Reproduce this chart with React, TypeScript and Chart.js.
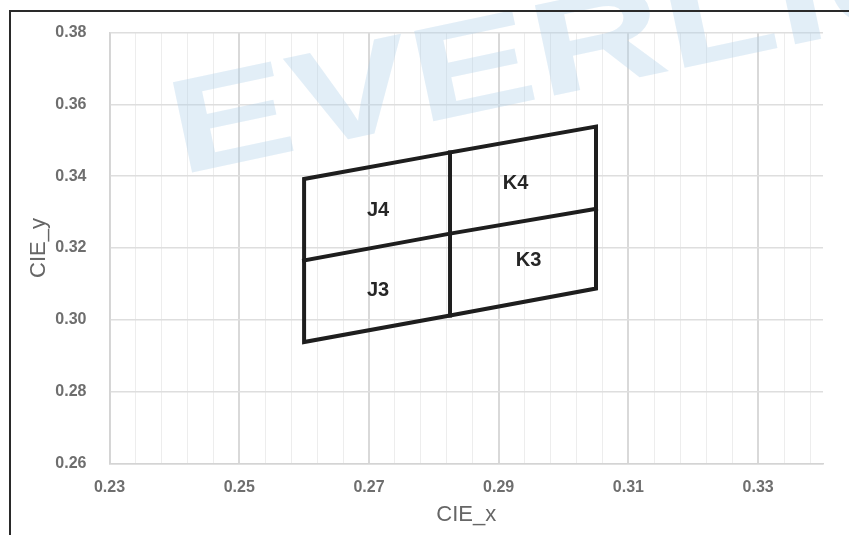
import React, { useEffect, useRef } from 'react';
import { Chart, registerables } from 'chart.js';

Chart.register(...registerables);

// ---- data ----
const binXs = [0.26, 0.2825, 0.305];
const binYTop = [0.3392, 0.3466, 0.3538];
const binYMid = [0.3165, 0.324, 0.3309];
const binYBottom = [0.2938, 0.3012, 0.3087];

const binNames = ['J4', 'K4', 'J3', 'K3'];
const binLabelX = [0.2714, 0.2926, 0.2714, 0.2946];
const binLabelY = [0.3304, 0.3379, 0.3082, 0.3165];

const xTickLabels = ['0.23', '0.25', '0.27', '0.29', '0.31', '0.33'];
const yTickLabels = ['0.26', '0.28', '0.30', '0.32', '0.34', '0.36', '0.38'];
const X_MIN = 0.23;
const X_MAX = 0.34;
const Y_MIN = 0.26;
const Y_MAX = 0.38;
const X_MINOR_STEP = 0.004;
const X_MAJOR_STEP = 0.02;
const xTitle = 'CIE_x';
const yTitle = 'CIE_y';
const watermarkText = 'EVERLIGHT';

const LINE_COLOR = '#1e1e1e';
const FONT = "'Liberation Sans', Arial, sans-serif";

const isMajorX = (v: number) => {
  const r = (v - X_MIN) / X_MAJOR_STEP;
  return Math.abs(r - Math.round(r)) < 1e-6;
};

export default function App() {
  const ref = useRef<HTMLCanvasElement | null>(null);

  useEffect(() => {
    if (!ref.current) return;
    const [x0, x1, x2] = binXs;
    const outline = [
      { x: x1, y: binYTop[1] },
      { x: x2, y: binYTop[2] },
      { x: x2, y: binYMid[2] },
      { x: x2, y: binYBottom[2] },
      { x: x1, y: binYBottom[1] },
      { x: x0, y: binYBottom[0] },
      { x: x0, y: binYMid[0] },
      { x: x0, y: binYTop[0] },
      { x: x1, y: binYTop[1] },
    ];
    const midH = binXs.map((x, i) => ({ x, y: binYMid[i] }));
    const midV = [
      { x: x1, y: binYTop[1] },
      { x: x1, y: binYMid[1] },
      { x: x1, y: binYBottom[1] },
    ];

    const lineDs = (data: { x: number; y: number }[]) => ({
      data,
      showLine: true,
      borderColor: LINE_COLOR,
      backgroundColor: LINE_COLOR,
      borderWidth: 4,
      pointRadius: 0,
      pointHoverRadius: 0,
      tension: 0,
      fill: false,
      borderJoinStyle: 'miter' as const,
      borderCapStyle: 'square' as const,
    });

    const watermarkPlugin = {
      id: 'watermark',
      beforeDatasetsDraw(chart: any) {
        const ctx = chart.ctx;
        ctx.save();
        ctx.translate(180, 175);
        ctx.rotate((-12 * Math.PI) / 180);
        ctx.scale(1.38, 1);
        ctx.font = `bold 134px ${FONT}`;
        ctx.fillStyle = 'rgba(175, 207, 232, 0.36)';
        ctx.textBaseline = 'alphabetic';
        ctx.textAlign = 'left';
        ctx.fillText(watermarkText, 0, 0);
        ctx.restore();
      },
    };

    const labelPlugin = {
      id: 'binLabels',
      afterDatasetsDraw(chart: any) {
        const ctx = chart.ctx;
        const xs = chart.scales.x;
        const ys = chart.scales.y;
        ctx.save();
        ctx.font = `bold 20px ${FONT}`;
        ctx.fillStyle = '#262626';
        ctx.textAlign = 'center';
        ctx.textBaseline = 'middle';
        binNames.forEach((n, i) => {
          ctx.fillText(n, xs.getPixelForValue(binLabelX[i]), ys.getPixelForValue(binLabelY[i]));
        });
        ctx.restore();
      },
    };

    const chart = new Chart(ref.current, {
      type: 'scatter',
      data: {
        datasets: [lineDs(outline), lineDs(midH), lineDs(midV)],
      },
      options: {
        animation: false,
        responsive: false,
        layout: { padding: { left: 0, right: 26, top: 31.7, bottom: 0 } },
        plugins: {
          legend: { display: false },
          tooltip: { enabled: false },
        },
        scales: {
          x: {
            type: 'linear',
            min: X_MIN,
            max: X_MAX,
            afterBuildTicks: (scale: any) => {
              const ticks = [];
              for (let i = 0; X_MIN + i * X_MINOR_STEP < X_MAX - 1e-9; i++) {
                ticks.push({ value: Math.round((X_MIN + i * X_MINOR_STEP) * 1e6) / 1e6 });
              }
              scale.ticks = ticks;
            },
            afterFit: (scale: any) => {
              scale.height = 71.7;
            },
            ticks: {
              autoSkip: false,
              maxRotation: 0,
              padding: 15,
              color: '#6e6e6e',
              font: { family: FONT, size: 16, weight: 'bold' },
              callback: (v: any) => {
                if (!isMajorX(v)) return '';
                const idx = Math.round((v - X_MIN) / X_MAJOR_STEP);
                return xTickLabels[idx] ?? '';
              },
            },
            grid: {
              drawTicks: false,
              color: (c: any) => (c.tick && isMajorX(c.tick.value) ? '#d9d9d9' : '#ededed'),
              lineWidth: (c: any) => (c.tick && isMajorX(c.tick.value) ? 2 : 1),
            },
            border: { display: true, color: '#d4d4d4', width: 1.5 },
            title: {
              display: true,
              text: xTitle,
              color: '#666666',
              font: { family: FONT, size: 22, weight: 'normal' },
              padding: { top: 0, bottom: 6.8 },
            },
          },
          y: {
            type: 'linear',
            min: Y_MIN,
            max: Y_MAX,
            afterBuildTicks: (scale: any) => {
              scale.ticks = yTickLabels.map((t) => ({ value: parseFloat(t) }));
            },
            afterFit: (scale: any) => {
              scale.width = 109.5;
            },
            ticks: {
              padding: 23,
              color: '#6e6e6e',
              font: { family: FONT, size: 16, weight: 'bold' },
              callback: (v: any) => {
                const idx = Math.round((v - Y_MIN) / 0.02);
                return yTickLabels[idx] ?? '';
              },
            },
            grid: {
              drawTicks: false,
              color: '#dedede',
              lineWidth: 1.5,
            },
            border: { display: true, color: '#d4d4d4', width: 1.5 },
            title: {
              display: true,
              text: yTitle,
              color: '#666666',
              font: { family: FONT, size: 22, weight: 'normal' },
              padding: { top: 26, bottom: 0 },
            },
          },
        },
      },
      plugins: [watermarkPlugin, labelPlugin],
    } as any);

    return () => chart.destroy();
  }, []);

  return (
    <div style={{ position: 'fixed', left: 0, top: 0, width: 849, height: 535, background: '#fff', overflow: 'hidden' }}>
      <canvas ref={ref} width={849} height={535} style={{ position: 'absolute', left: 0, top: 0 }} />
      <div
        style={{
          position: 'absolute',
          left: 9,
          top: 10,
          width: 900,
          height: 600,
          borderLeft: '2px solid #2a2a2a',
          borderTop: '2px solid #2a2a2a',
          pointerEvents: 'none',
        }}
      />
    </div>
  );
}
